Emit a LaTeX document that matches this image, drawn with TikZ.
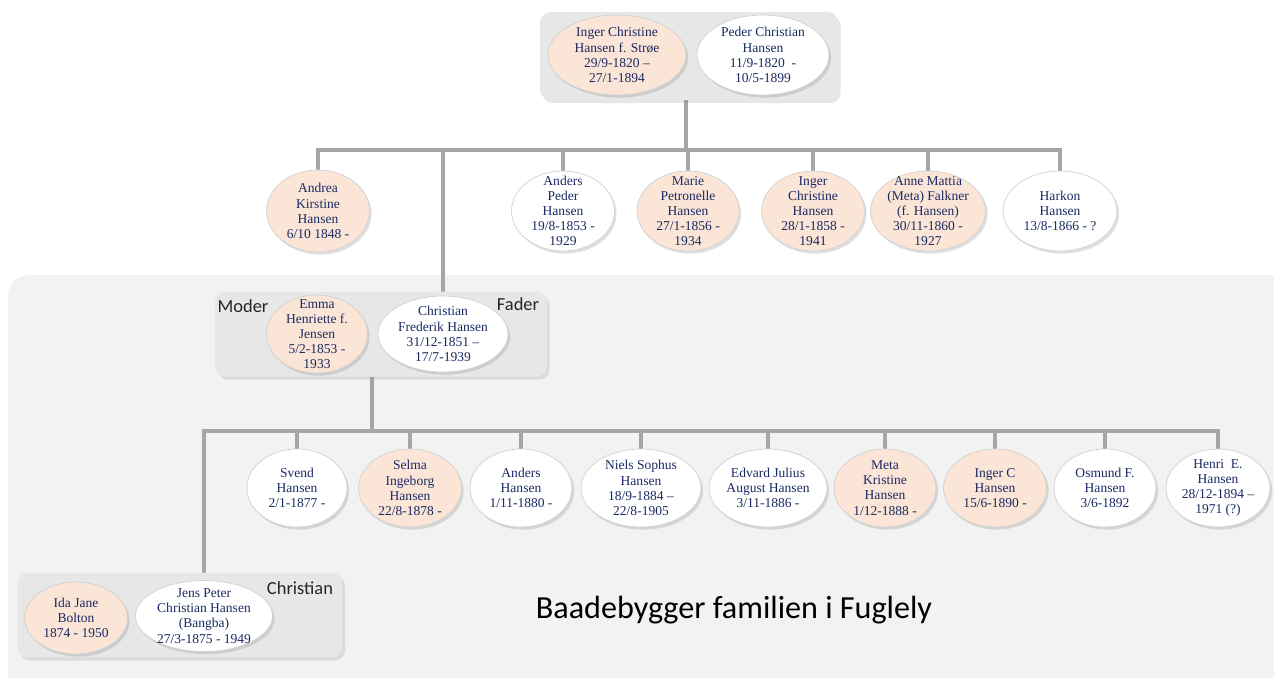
\documentclass[tikz,border=0pt]{standalone}
\usepackage{fontspec}
\setmainfont{Liberation Serif}
\newfontfamily\calibri{Carlito}
\usetikzlibrary{shapes.geometric,shadows}
\definecolor{peach}{RGB}{251,229,214}
\definecolor{ink}{RGB}{26,42,100}
\definecolor{bar}{RGB}{166,166,166}
\definecolor{boxfill}{RGB}{231,231,231}
\definecolor{panelfill}{RGB}{242,242,242}
\pgfdeclarelayer{panel}
\pgfdeclarelayer{links}
\pgfdeclarelayer{boxes}
\pgfsetlayers{panel,links,boxes,main}
\begin{document}
\begin{tikzpicture}[x=0.02cm, y=-0.02cm,
    person/.style={ellipse, draw=black!18, line width=0.4pt, inner xsep=-3pt, inner ysep=-7pt, align=center, text=ink,
      font=\fontsize{7.7}{8.6}\selectfont, drop shadow={shadow xshift=1.2pt, shadow yshift=-1.5pt, opacity=0.25}},
    she/.style={person, fill=peach},
    he/.style={person, fill=white},
    couple/.style={rectangle, rounded corners=6pt, fill=boxfill, inner sep=0pt,
      drop shadow={shadow xshift=1.5pt, shadow yshift=-1.8pt, opacity=0.2}},
    link/.style={draw=bar, line width=2.2pt},
    role/.style={font=\calibri\fontsize{10.5}{12}\selectfont, text=black!85}]
  \useasboundingbox (0,0) rectangle (1274,677);
  \begin{pgfonlayer}{panel}
    \begin{scope}
      \clip (0,0) rectangle (1274,677);
      \fill[panelfill, rounded corners=12pt] (8,275) rectangle (1300,700);
    \end{scope}
  \end{pgfonlayer}
  % couples
  \begin{pgfonlayer}{boxes}
    \node[couple, minimum width=5.96cm, minimum height=1.76cm] (top) at (689,56) {};
    \node[couple, minimum width=6.64cm, minimum height=1.7cm] (box2) at (381,334) {};
    \node[couple, minimum width=6.5cm, minimum height=1.7cm] (box3) at (180,615) {};
  \end{pgfonlayer}
  \node[she, minimum width=2.76cm, minimum height=1.6cm] (inger) at (617,55) {Inger Christine\\Hansen f. Strøe\\29/9-1820 –\\27/1-1894};
  \node[he, minimum width=2.64cm, minimum height=1.6cm] (peder) at (763,55) {Peder Christian\\Hansen\\11/9-1820 \ -\\10/5-1899};
  % first generation
  \node[she, minimum width=2.06cm, minimum height=1.64cm] (andrea) at (318,211) {Andrea\\Kirstine\\Hansen\\6/10 1848 -};
  \node[he, minimum width=2.06cm, minimum height=1.6cm] (anders) at (563,211) {Anders\\Peder\\Hansen\\19/8-1853 -\\1929};
  \node[she, minimum width=2.04cm, minimum height=1.6cm] (marie) at (688,211) {Marie\\Petronelle\\Hansen\\27/1-1856 -\\1934};
  \node[she, minimum width=2.06cm, minimum height=1.6cm] (ingerc) at (813,211) {Inger\\Christine\\Hansen\\28/1-1858 -\\1941};
  \node[she, minimum width=2.3cm, minimum height=1.6cm] (anne) at (928,211) {Anne Mattia\\(Meta) Falkner\\(f. Hansen)\\30/11-1860 -\\1927};
  \node[he, minimum width=2.28cm, minimum height=1.6cm] (harkon) at (1060,211) {Harkon\\Hansen\\13/8-1866 - ?};
  \node[she, minimum width=2.02cm, minimum height=1.56cm] (emma) at (317,334) {Emma\\Henriette f.\\Jensen\\5/2-1853 -\\1933};
  \node[he, minimum width=2.6cm, minimum height=1.52cm] (cfh) at (443,334) {Christian\\Frederik Hansen\\31/12-1851 –\\17/7-1939};
  \node[role] (moder) at (243,306) {Moder};
  \node[role] (fader) at (518,304) {Fader};
  % second generation
  \node[he, minimum width=2.0cm, minimum height=1.56cm] (svend) at (297,488) {Svend\\Hansen\\2/1-1877 -};
  \node[she, minimum width=2.06cm, minimum height=1.56cm] (selma) at (410,488) {Selma\\Ingeborg\\Hansen\\22/8-1878 -};
  \node[he, minimum width=2.04cm, minimum height=1.56cm] (andersh) at (521,488) {Anders\\Hansen\\1/11-1880 -};
  \node[he, minimum width=2.4cm, minimum height=1.56cm] (niels) at (641,488) {Niels Sophus\\Hansen\\18/9-1884 –\\22/8-1905};
  \node[he, minimum width=2.36cm, minimum height=1.56cm] (edvard) at (768,488) {Edvard Julius\\August Hansen\\3/11-1886 -};
  \node[she, minimum width=2.04cm, minimum height=1.56cm] (meta) at (885,488) {Meta\\Kristine\\Hansen\\1/12-1888 -};
  \node[she, minimum width=2.06cm, minimum height=1.56cm] (ingerch) at (995,488) {Inger C\\Hansen\\15/6-1890 -};
  \node[he, minimum width=2.04cm, minimum height=1.56cm] (osmund) at (1105,488) {Osmund F.\\Hansen\\3/6-1892};
  \node[he, minimum width=2.08cm, minimum height=1.56cm] (henri) at (1218,488) {Henri \ E.\\Hansen\\28/12-1894 –\\1971 (?)};
  \node[she, minimum width=2.06cm, minimum height=1.44cm] (ida) at (76,618) {Ida Jane\\Bolton\\1874 - 1950};
  \node[he, minimum width=2.74cm, minimum height=1.42cm] (jens) at (204,616) {Jens Peter\\Christian Hansen\\(Bangba)\\27/3-1875 - 1949};
  \node[role] (christianlbl) at (300,588) {Christian};
  \node[font=\calibri\fontsize{18.3}{21}\selectfont] (title) at (734,610) {Baadebygger familien i Fuglely};
  % lines
  \coordinate (bar1) at (686,150);
  \coordinate (bar2) at (372,431);
  \begin{pgfonlayer}{links}
    \draw[link] (bar1 |- top.south) -- (bar1);
    \foreach \kid in {andrea, anders, marie, ingerc, anne, harkon, cfh}
      \draw[link] (bar1) -| (\kid);
    \draw[link] (bar2 |- box2.south) -- (bar2);
    \foreach \kid in {svend, selma, andersh, niels, edvard, meta, ingerch, osmund, henri, jens}
      \draw[link] (bar2) -| (\kid);
  \end{pgfonlayer}
\end{tikzpicture}
\end{document}
